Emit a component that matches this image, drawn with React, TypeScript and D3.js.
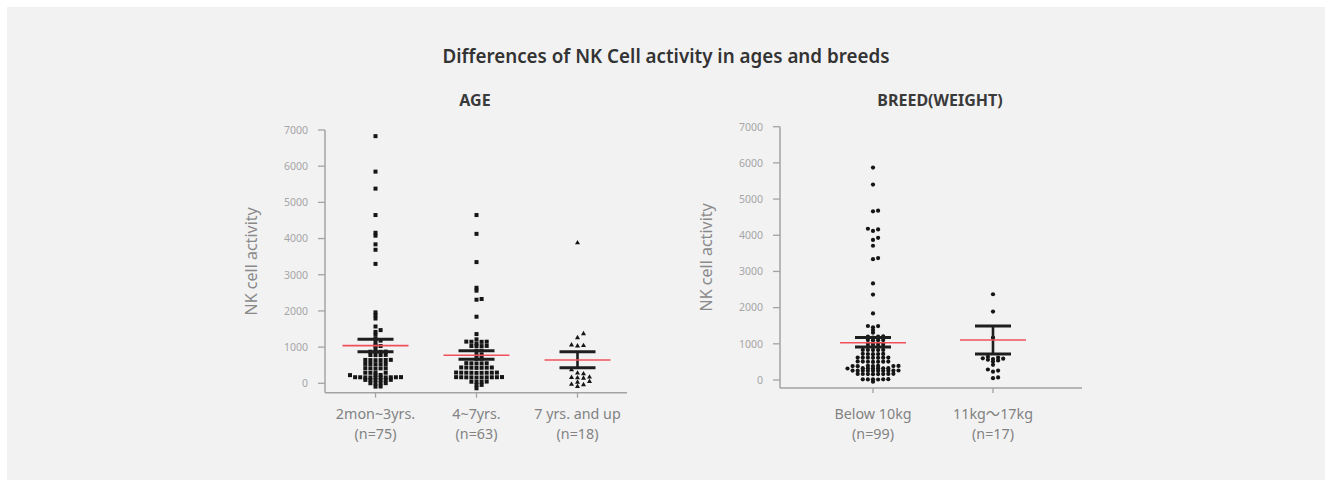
import React from 'react';
import * as d3 from 'd3';

// ---- data ----
const yTicks = [0, 1000, 2000, 3000, 4000, 5000, 6000, 7000];

const ageCategories = ['2mon~3yrs.', '4~7yrs.', '7 yrs. and up'];
const ageCounts = ['(n=75)', '(n=63)', '(n=18)'];
const ageYoung = [
  6830, 5850, 5380, 4650, 4160, 4080, 3840, 3690, 3300, 1960, 1880, 1790, 1570, 1470, 1420, 1340,
  1230, 1180, 1120, 1030, 1040, 966,
  873, 870, 876, 868, 782, 785, 778, 780,
  644, 640, 648, 642, 646, 638, 533, 530, 536, 528, 534,
  414, 410, 418, 412, 416, 293, 290, 296, 292, 229, 226, 232,
  165, 162, 168, 164, 166, 160, 170, 163, 167, 161,
  92, 90, 94, 88, 96, 91, 0, 4, -4, 2, -92, -88,
];
const ageMiddle = [
  4650, 4130, 3350, 2640, 2560, 2330, 2310, 1840, 1360,
  1215, 1150, 1148, 1152, 1146, 1100, 1030, 1028, 1034, 1026, 900, 896, 780, 784, 680, 676,
  552, 550, 556, 548, 554, 432, 430, 436, 428, 434, 426, 438,
  293, 290, 296, 292, 294, 288, 298, 291, 295,
  166, 162, 170, 164, 168, 160, 172, 165, 167, 163,
  44, 40, 48, 42, -47, -44, -138,
];
const ageOld = [3890, 1380, 1270, 1070, 1050, 1040, 380, 290, 270, 180, 170, 160, 150, 60, 40, -20, -30, -80];
const ageMean = [1040, 775, 644];
const ageUpper = [1215, 900, 873];
const ageLower = [873, 663, 431];

const breedCategories = ['Below 10kg', '11kg～17kg'];
const breedCounts = ['(n=99)', '(n=17)'];
const breedSmall = [
  5870, 5400, 4680, 4660, 4180, 4160, 4120, 3930, 3870, 3710, 3370, 3340, 2670, 2360, 1840,
  1492, 1490, 1455, 1382, 1308,
  1200, 1204, 1196, 1170, 1100, 1104, 1096, 1102, 1000, 1004, 996, 1002,
  920, 924, 916, 922, 829, 832, 826, 830, 828,
  718, 714, 722, 716, 720, 617, 614, 620, 616, 618, 612, 622,
  506, 502, 510, 504, 508, 500, 512, 387, 384, 390, 386, 388, 382, 392,
  323, 320, 326, 322, 324, 318, 328,
  258, 255, 261, 257, 259, 253, 263, 256, 260, 254,
  166, 163, 169, 165, 167, 161, 171, 164,
  19, 16, 22, 18, 20, 14, -47,
];
const breedLarge = [2370, 1890, 1170, 640, 620, 600, 590, 580, 560, 540, 510, 420, 290, 260, 230, 70, 50];
const breedMean = [1030, 1105];
const breedUpper = [1175, 1492];
const breedLower = [915, 718];

type Shape = 'square' | 'triangle' | 'circle';

// simple beeswarm: sort by value, push sideways until no overlap
function swarm(values: number[], y: (v: number) => number, cx: number, dx: number, dy: number) {
  const placed: { x: number; y: number }[] = [];
  const sorted = [...values].sort((a, b) => a - b);
  sorted.forEach(v => {
    const py = y(v);
    for (let k = 0; k < 60; k++) {
      const off = k === 0 ? 0 : (k % 2 === 1 ? 1 : -1) * Math.ceil(k / 2) * dx;
      const px = cx + off;
      const hit = placed.some(p => Math.abs(p.x - px) < dx * 0.9 && Math.abs(p.y - py) < dy);
      if (!hit) { placed.push({ x: px, y: py }); break; }
    }
  });
  return placed;
}

const font = '"Noto Sans", "Noto Sans CJK KR", sans-serif';

interface PanelProps {
  title: string;
  titleX: number;
  categories: string[];
  counts: string[];
  groups: number[][];
  shapes: Shape[];
  means: number[];
  upper: number[];
  lower: number[];
  axisX: number;
  axisEnd: number;
  top: number;
  zeroY: number;
  baseY: number;
  centers: [number, number];
  labelX: number;
}

const Panel = (p: PanelProps) => {
  const y = d3.scaleLinear().domain([0, 7000]).range([p.zeroY, p.top]);
  const x = d3.scalePoint<string>().domain(p.categories).range(p.centers);
  const tickColor = '#a3a3a3';

  return (
    <g>
      <text x={p.titleX} y={106} textAnchor="middle" fontSize={16} fontWeight={700} fill="#3a3a3a" fontFamily={font}>{p.title}</text>
      <text transform={`translate(${p.labelX},${(p.top + p.baseY) / 2}) rotate(-90)`} textAnchor="middle" fontSize={16} fill="#8a8a8a" fontFamily={font}>NK cell activity</text>
      <line x1={p.axisX} x2={p.axisX} y1={p.top} y2={p.baseY} stroke={tickColor} strokeWidth={1.5} />
      <line x1={p.axisX} x2={p.axisEnd} y1={p.baseY} y2={p.baseY} stroke={tickColor} strokeWidth={1.5} />
      {yTicks.map(t => (
        <g key={t}>
          <line x1={p.axisX - 7} x2={p.axisX} y1={y(t)} y2={y(t)} stroke={tickColor} strokeWidth={1.3} />
          <text x={p.axisX - 17} y={y(t) + 3.8} textAnchor="end" fontSize={10.5} fill="#a6a6a6" fontFamily={font}>{t}</text>
        </g>
      ))}
      {p.categories.map((c, i) => {
        const cx = x(c) as number;
        const shape = p.shapes[i];
        const pts = shape === 'triangle'
          ? swarm(p.groups[i], y, cx, 6, 4)
          : swarm(p.groups[i], y, cx, 5.1, 2.4);
        return (
          <g key={c}>
            <line x1={cx} x2={cx} y1={p.baseY} y2={p.baseY + 5} stroke={tickColor} strokeWidth={1.3} />
            <text x={cx} y={419} textAnchor="middle" fontSize={14.3} fill="#828282" fontFamily={font}>{c}</text>
            <text x={cx} y={438.5} textAnchor="middle" fontSize={14.3} fill="#828282" fontFamily={font}>{p.counts[i]}</text>
            {pts.map((pt, j) =>
              shape === 'square' ? (
                <rect key={j} x={pt.x - 2} y={pt.y - 2} width={4} height={4} fill="#151515" />
              ) : shape === 'triangle' ? (
                <path key={j} d={`M${pt.x},${pt.y - 2.6}L${pt.x + 2.5},${pt.y + 1.8}L${pt.x - 2.5},${pt.y + 1.8}Z`} fill="#151515" />
              ) : (
                <circle key={j} cx={pt.x} cy={pt.y} r={2.1} fill="#151515" />
              )
            )}
            <line x1={cx} x2={cx} y1={y(p.lower[i])} y2={y(p.upper[i])} stroke="#1e1e1e" strokeWidth={2.6} />
            <line x1={cx - 18} x2={cx + 18} y1={y(p.upper[i])} y2={y(p.upper[i])} stroke="#1e1e1e" strokeWidth={3} />
            <line x1={cx - 18} x2={cx + 18} y1={y(p.lower[i])} y2={y(p.lower[i])} stroke="#1e1e1e" strokeWidth={3} />
            <line x1={cx - 33} x2={cx + 33} y1={y(p.means[i])} y2={y(p.means[i])} stroke="#f0505a" strokeWidth={1.6} />
          </g>
        );
      })}
    </g>
  );
};

const App = () => {
  return (
    <svg width={1326} height={480} style={{ position: 'absolute', left: 0, top: 0, display: 'block' }}>
      <rect x={0} y={0} width={1326} height={480} fill="#ffffff" />
      <rect x={7} y={7} width={1318} height={473} fill="#f2f2f3" />
      <text x={666} y={63} textAnchor="middle" fontSize={18.8} fontWeight={600} fill="#333" fontFamily={font}>
        Differences of NK Cell activity in ages and breeds
      </text>
      <Panel
        title="AGE" titleX={475}
        categories={ageCategories} counts={ageCounts}
        groups={[ageYoung, ageMiddle, ageOld]}
        shapes={['square', 'square', 'triangle']}
        means={ageMean} upper={ageUpper} lower={ageLower}
        axisX={325} axisEnd={627} top={130} zeroY={383.3} baseY={392.7}
        centers={[375.5, 577.5]} labelX={257}
      />
      <Panel
        title="BREED(WEIGHT)" titleX={940}
        categories={breedCategories} counts={breedCounts}
        groups={[breedSmall, breedLarge]}
        shapes={['circle', 'circle']}
        means={breedMean} upper={breedUpper} lower={breedLower}
        axisX={780} axisEnd={1082} top={126.7} zeroY={380} baseY={388}
        centers={[873, 993]} labelX={712}
      />
    </svg>
  );
};

export default App;
